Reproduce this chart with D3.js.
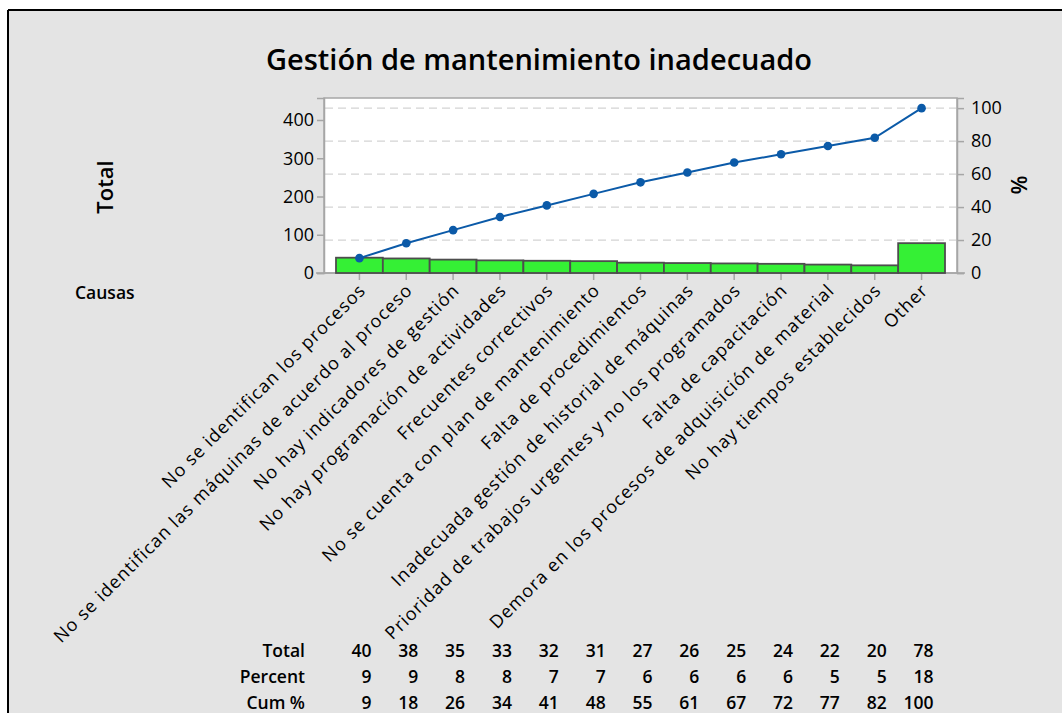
<!DOCTYPE html>
<html>
<head>
<meta charset="utf-8">
<script src="https://d3js.org/d3.v7.min.js"></script>
<style>
  body { margin: 0; background: #fff; }
  svg { display: block; font-family: "Open Sans", sans-serif; }
</style>
</head>
<body>
<svg width="1062" height="713"></svg>
<script>

var categories = [
  "No se identifican los procesos",
  "No se identifican las máquinas de acuerdo al proceso",
  "No hay indicadores de gestión",
  "No hay programación de actividades",
  "Frecuentes correctivos",
  "No se cuenta con plan de mantenimiento",
  "Falta de procedimientos",
  "Inadecuada gestión de historial de máquinas",
  "Prioridad de trabajos urgentes y no los programados",
  "Falta de capacitación",
  "Demora en los procesos de adquisición de material",
  "No hay tiempos establecidos",
  "Other"
];
var totals = [40, 38, 35, 33, 32, 31, 27, 26, 25, 24, 22, 20, 78];
var percents = [9, 9, 8, 8, 7, 7, 6, 6, 6, 6, 5, 5, 18];
var cumPercents = [9, 18, 26, 34, 41, 48, 55, 61, 67, 72, 77, 82, 100];
var totalTicks = [0, 100, 200, 300, 400];
var pctTicks = [0, 20, 40, 60, 80, 100];

var svg = d3.select("svg");
var W = 1062, H = 713;

// background + frame
svg.append("rect").attr("x", 8).attr("y", 10).attr("width", W - 8).attr("height", H - 10).attr("fill", "#e4e4e4");
svg.append("line").attr("x1", 8).attr("x2", W).attr("y1", 10).attr("y2", 10).attr("stroke", "#000").attr("stroke-width", 2);
svg.append("line").attr("x1", 8).attr("x2", 8).attr("y1", 10).attr("y2", H).attr("stroke", "#000").attr("stroke-width", 2);

var pL = 324, pR = 957, pT = 98, pB = 273;
var grand = d3.sum(totals);

var x = d3.scaleBand().domain(categories).range([pL + 12, pR - 12]).padding(0);
var y = d3.scaleLinear().domain([0, 457.5]).range([pB, pT]);
var yp = d3.scaleLinear().domain([0, 100 * 457.5 / grand]).range([pB, pT]);

// plot area
svg.append("rect").attr("x", pL).attr("y", pT).attr("width", pR - pL).attr("height", pB - pT)
  .attr("fill", "#fff").attr("stroke", "#a6a6a6").attr("stroke-width", 1.5);

// gridlines on percent ticks
svg.append("g").selectAll("line").data(pctTicks.filter(function(d) { return d > 0; })).join("line")
  .attr("x1", pL + 1).attr("x2", pR - 1)
  .attr("y1", function(d) { return yp(d); }).attr("y2", function(d) { return yp(d); })
  .attr("stroke", "#d4d4d4").attr("stroke-width", 1.2).attr("stroke-dasharray", "8,5");

// axes
var axL = svg.append("g").attr("transform", "translate(" + pL + ",0)")
  .call(d3.axisLeft(y).tickValues(totalTicks).tickSize(7).tickPadding(3));
var axR = svg.append("g").attr("transform", "translate(" + pR + ",0)")
  .call(d3.axisRight(yp).tickValues(pctTicks).tickSize(7).tickPadding(7));
var axB = svg.append("g").attr("transform", "translate(0," + pB + ")")
  .call(d3.axisBottom(x).tickSize(7).tickFormat(""));
[axL, axR, axB].forEach(function(a) {
  a.select(".domain").attr("stroke", "#a6a6a6").attr("stroke-width", 1.5);
  a.selectAll(".tick line").attr("stroke", "#a6a6a6").attr("stroke-width", 1.5);
  a.selectAll("text").attr("font-size", 18).attr("fill", "#000").attr("font-family", "Open Sans");
});
axB.select(".domain").attr("d", "M" + (pL - 8) + ",0H" + (pR + 8));

// bars
svg.append("g").selectAll("rect").data(categories).join("rect")
  .attr("x", function(d) { return x(d); })
  .attr("width", x.bandwidth())
  .attr("y", function(d, i) { return y(totals[i]); })
  .attr("height", function(d, i) { return y(0) - y(totals[i]); })
  .attr("fill", "#35f035").attr("stroke", "#4d4d4d").attr("stroke-width", 1.8);

// cumulative line
var cx = function(i) { return x(categories[i]) + x.bandwidth() / 2; };
var line = d3.line().x(function(d, i) { return cx(i); }).y(function(d) { return yp(d); });
svg.append("path").datum(cumPercents).attr("d", line)
  .attr("fill", "none").attr("stroke", "#0b5aa8").attr("stroke-width", 2);
svg.append("g").selectAll("circle").data(cumPercents).join("circle")
  .attr("cx", function(d, i) { return cx(i); }).attr("cy", function(d) { return yp(d); })
  .attr("r", 4.3).attr("fill", "#0b5aa8");

// rotated category labels
svg.append("g").selectAll("text").data(categories).join("text")
  .attr("transform", function(d, i) { return "translate(" + (cx(i) + 3) + "," + 287 + ") rotate(-45)"; })
  .attr("text-anchor", "end").attr("dy", "0.35em")
  .attr("font-size", 18).attr("letter-spacing", 1).text(function(d) { return d; });

// titles
svg.append("text").attr("x", 539).attr("y", 70).attr("text-anchor", "middle")
  .attr("font-size", 29).attr("font-weight", 600).text("Gestión de mantenimiento inadecuado");
svg.append("text").attr("transform", "translate(113,187) rotate(-90)").attr("text-anchor", "middle")
  .attr("font-size", 22).attr("font-weight", 600).text("Total");
svg.append("text").attr("transform", "translate(1027,185) rotate(-90)").attr("text-anchor", "middle")
  .attr("font-size", 22).attr("font-weight", 600).text("%");
svg.append("text").attr("x", 75).attr("y", 299).attr("font-size", 17.5).attr("font-weight", 600).text("Causas");

// table
var rows = [["Total", totals], ["Percent", percents], ["Cum %", cumPercents]];
rows.forEach(function(r, k) {
  var yy = 657 + k * 26;
  svg.append("text").attr("x", 305).attr("y", yy).attr("text-anchor", "end")
    .attr("font-size", 17.5).attr("font-weight", 600).text(r[0]);
  svg.append("g").selectAll("text").data(r[1]).join("text")
    .attr("x", function(d, i) { return cx(i) + 12; }).attr("y", yy)
    .attr("text-anchor", "end").attr("font-size", 17.5).attr("font-weight", 600)
    .text(function(d) { return d; });
});

</script>
</body>
</html>
